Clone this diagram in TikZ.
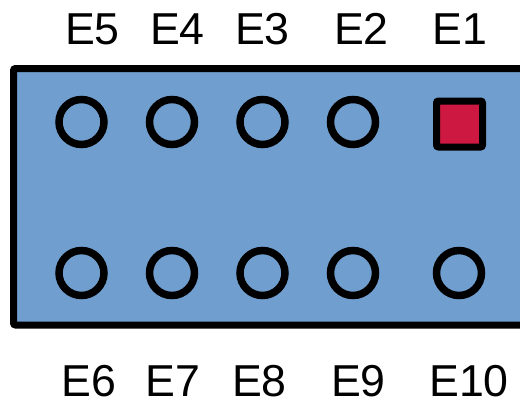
\documentclass[tikz,border=0pt]{standalone}
\usepackage{fontspec}
\setmainfont{Liberation Sans}
\usetikzlibrary{positioning}
\definecolor{boardblue}{RGB}{112,159,207}
\definecolor{padred}{RGB}{205,24,66}

\begin{document}
\begin{tikzpicture}[x=1pt,y=-1pt,
    hole/.style={draw=black,line width=7.5pt,circle,minimum size=45pt,inner sep=0pt},
    pad/.style={draw=black,fill=padred,line width=7pt,rounded corners=2pt,minimum size=46pt,inner sep=0pt},
    pinlabel/.style={font=\fontsize{44.7}{50}\selectfont,inner sep=0pt}]
    \clip (0,0) rectangle (520,405);
    \draw[fill=boardblue,line width=7pt,rounded corners=2pt] (13.5,68.5) rectangle (560,325);

    \node[pad]  (E1)  at (459.5,124) {};
    \node[hole] (E2)  at (353,122) {};
    \node[hole] (E3)  at (262.5,122) {};
    \node[hole] (E4)  at (172,122) {};
    \node[hole] (E5)  at (81.5,122) {};

    \node[hole] (E6)  at (81.5,273) {};
    \node[hole] (E7)  at (172,273) {};
    \node[hole] (E8)  at (262.5,273) {};
    \node[hole] (E9)  at (353,273) {};
    \node[hole] (E10) at (459,273) {};

    \node[pinlabel] (lE1)  at (460,29) {E1};
    \node[pinlabel] (lE2)  at (361.5,29) {E2};
    \node[pinlabel] (lE3)  at (262.5,29) {E3};
    \node[pinlabel] (lE4)  at (177.5,29) {E4};
    \node[pinlabel] (lE5)  at (92.5,29) {E5};

    \node[pinlabel] (lE6)  at (89,381) {E6};
    \node[pinlabel] (lE7)  at (173,381) {E7};
    \node[pinlabel] (lE8)  at (259.5,381) {E8};
    \node[pinlabel] (lE9)  at (358.5,381) {E9};
    \node[pinlabel] (lE10) at (469,381) {E10};
\end{tikzpicture}
\end{document}
